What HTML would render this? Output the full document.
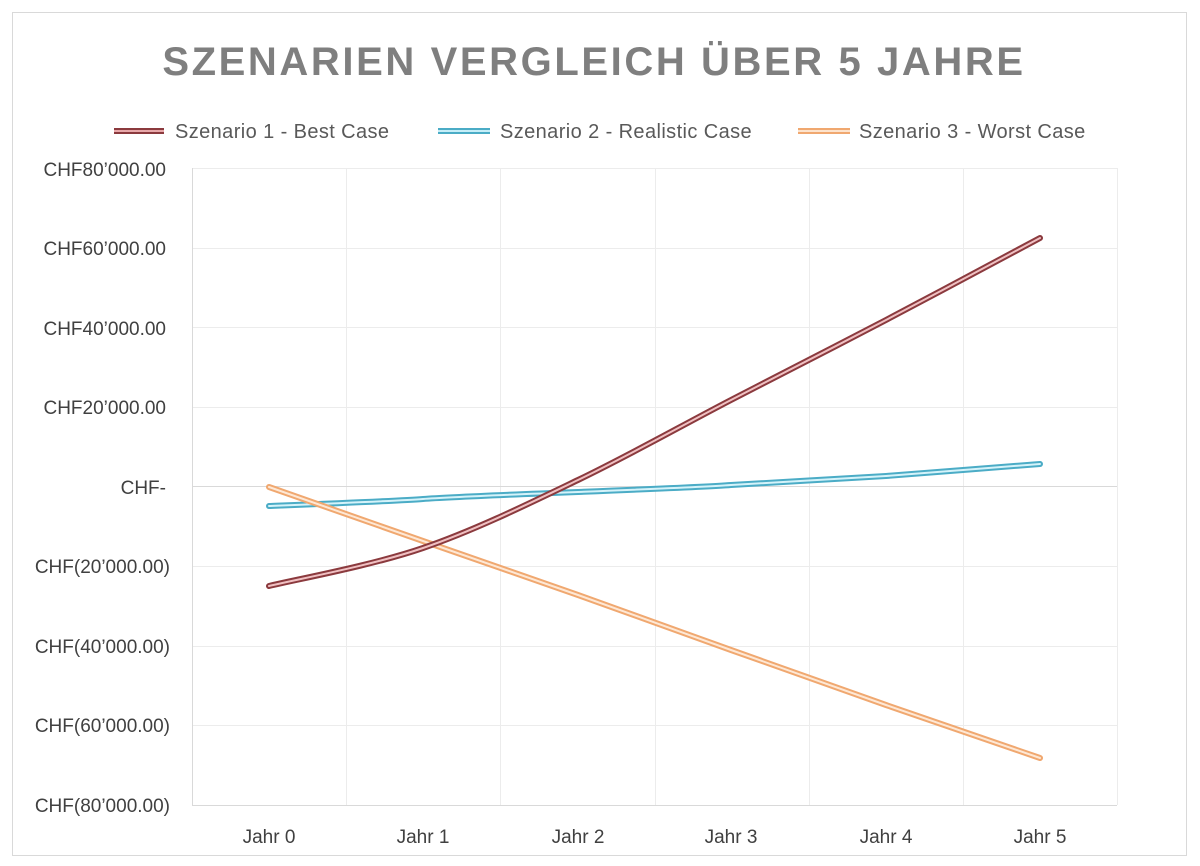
<!DOCTYPE html>
<html><head><meta charset="utf-8"><style>
body{margin:0;background:#fff;}
svg{display:block;font-family:"Liberation Sans",sans-serif;}
</style></head><body>
<svg width="1200" height="866" viewBox="0 0 1200 866">
<rect x="12.5" y="12.5" width="1174" height="843" fill="#fff" stroke="#d9d9d9"/>
<text x="594" y="75" text-anchor="middle" font-size="40" font-weight="bold" fill="#7f7f7f" letter-spacing="2.6">SZENARIEN VERGLEICH ÜBER 5 JAHRE</text>
<g font-size="20" fill="#595959" letter-spacing="0.4">
<line x1="114" y1="131" x2="164" y2="131" stroke="#8b3a3e" stroke-width="6"/><line x1="114" y1="131" x2="164" y2="131" stroke="#e8a8aa" stroke-width="2"/>
<text x="175" y="138">Szenario 1 - Best Case</text>
<line x1="438" y1="131" x2="490" y2="131" stroke="#4bacc6" stroke-width="6"/><line x1="438" y1="131" x2="490" y2="131" stroke="#c5eef8" stroke-width="2"/>
<text x="500" y="138">Szenario 2 - Realistic Case</text>
<line x1="798" y1="131" x2="850" y2="131" stroke="#f0a870" stroke-width="6"/><line x1="798" y1="131" x2="850" y2="131" stroke="#fde3cc" stroke-width="2"/>
<text x="859" y="138">Szenario 3 - Worst Case</text>
</g>
<g stroke="#ececec" stroke-width="1">
<line x1="192" y1="168.5" x2="1117" y2="168.5"/><line x1="192" y1="248.5" x2="1117" y2="248.5"/><line x1="192" y1="327.5" x2="1117" y2="327.5"/><line x1="192" y1="407.5" x2="1117" y2="407.5"/><line x1="192" y1="566.5" x2="1117" y2="566.5"/><line x1="192" y1="646.5" x2="1117" y2="646.5"/><line x1="192" y1="725.5" x2="1117" y2="725.5"/>
<line x1="346.5" y1="168" x2="346.5" y2="805"/><line x1="500.5" y1="168" x2="500.5" y2="805"/><line x1="655.5" y1="168" x2="655.5" y2="805"/><line x1="809.5" y1="168" x2="809.5" y2="805"/><line x1="963.5" y1="168" x2="963.5" y2="805"/><line x1="1117.5" y1="168" x2="1117.5" y2="805"/>
</g>
<line x1="192.5" y1="168" x2="192.5" y2="805" stroke="#d9d9d9"/>
<line x1="192" y1="805.5" x2="1117" y2="805.5" stroke="#d9d9d9"/>
<line x1="192" y1="486.5" x2="1117" y2="486.5" stroke="#d9d9d9"/>
<g font-size="19" fill="#404040" text-anchor="end">
<text x="166" y="176">CHF80’000.00</text><text x="166" y="255">CHF60’000.00</text><text x="166" y="335">CHF40’000.00</text><text x="166" y="414">CHF20’000.00</text><text x="166" y="494">CHF-</text><text x="170" y="573">CHF(20’000.00)</text><text x="170" y="653">CHF(40’000.00)</text><text x="170" y="732">CHF(60’000.00)</text><text x="170" y="812">CHF(80’000.00)</text>
</g>
<g font-size="19" fill="#404040" text-anchor="middle">
<text x="269" y="843">Jahr 0</text><text x="423" y="843">Jahr 1</text><text x="578" y="843">Jahr 2</text><text x="731" y="843">Jahr 3</text><text x="886" y="843">Jahr 4</text><text x="1040" y="843">Jahr 5</text>
</g>
<g fill="none" stroke-linecap="round" stroke-linejoin="round">
<path d="M269,506 C294,505 398,501 423,499 C449,497 552,493 578,492 C603,491 705,487 731,485 C757,483 860,478 886,476 C912,474 1014,466 1040,464" stroke="#4bacc6" stroke-width="6"/>
<path d="M269,506 C294,505 398,501 423,499 C449,497 552,493 578,492 C603,491 705,487 731,485 C757,483 860,478 886,476 C912,474 1014,466 1040,464" stroke="#d5f3fa" stroke-width="2"/>
<path d="M269,487 L423,541 L578,595 L731,650 L886,705 L1040,758" stroke="#f0a870" stroke-width="6"/>
<path d="M269,487 L423,541 L578,595 L731,650 L886,705 L1040,758" stroke="#fee8d5" stroke-width="2"/>
<path d="M269,586 C294.7,579.7 371.5,565.7 423,548 C474.5,530.3 526.7,504.7 578,480 C629.3,455.3 679.7,426.7 731,400 C782.3,373.3 834.5,347 886,320 C937.5,293 1014.3,251.7 1040,238" stroke="#8b3a3e" stroke-width="6"/>
<path d="M269,586 C294.7,579.7 371.5,565.7 423,548 C474.5,530.3 526.7,504.7 578,480 C629.3,455.3 679.7,426.7 731,400 C782.3,373.3 834.5,347 886,320 C937.5,293 1014.3,251.7 1040,238" stroke="#f0c0c2" stroke-width="2"/>
</g>
</svg>
</body></html>
